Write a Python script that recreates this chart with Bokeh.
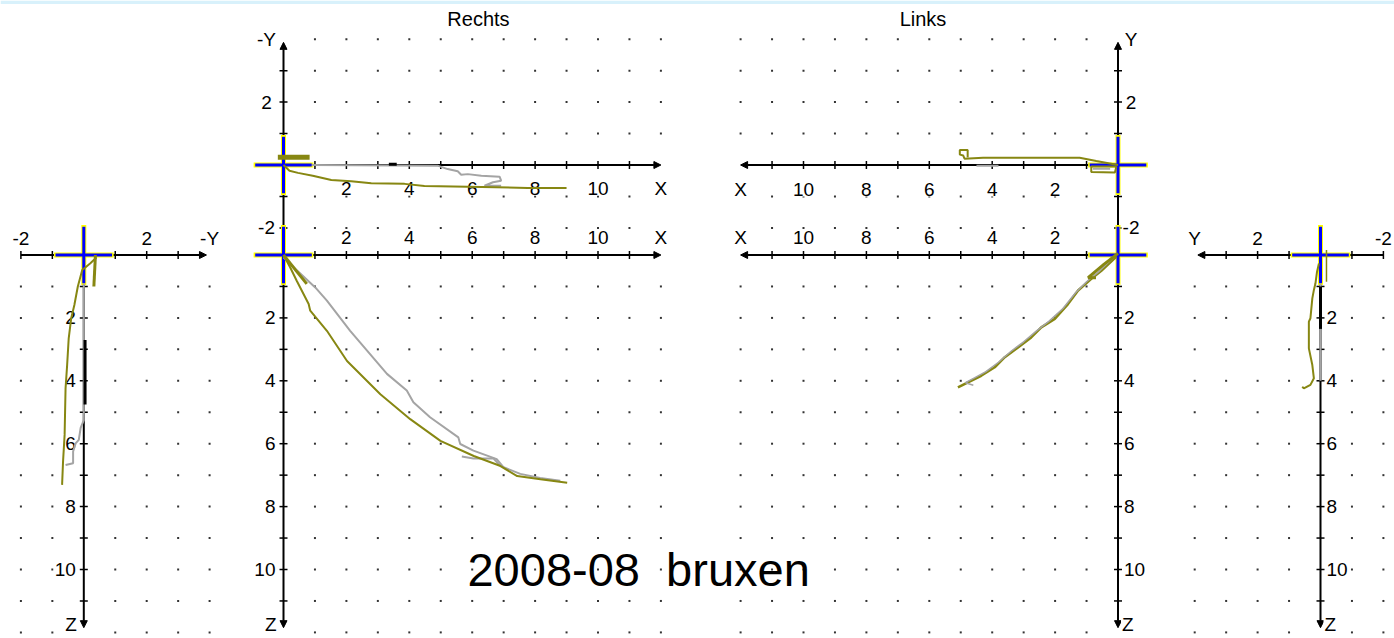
import numpy as np
from bokeh.plotting import figure
from bokeh.models import Range1d, ColumnDataSource, Arrow, NormalHead, BoxAnnotation
from bokeh.core.properties import value
from bokeh.embed import file_html
from bokeh.resources import INLINE

# ---------------- axis ticks / labels (mm) ----------------
FRONT_TICKS = [-2, -1, 1, 2, 3]
FRONT_LABEL_POS = [-2, 2, 4]
FRONT_LABELS_R = ["-2", "2", "-Y"]
FRONT_LABELS_L = ["-2", "2", "Y"]
X_TICKS = list(range(1, 12))
X_LABEL_POS = [2, 4, 6, 8, 10, 12]
X_LABELS = ["2", "4", "6", "8", "10", "X"]
Y_TICKS = [-2, -1, 1, 2, 3]
Y_LABEL_POS = [-2, 2, 4]
Y_LABELS_R = ["-2", "2", "-Y"]
Y_LABELS_L = ["-2", "2", "Y"]
Z_TICKS = list(range(1, 12))
Z_LABEL_POS = [2, 4, 6, 8, 10]
Z_LABELS = ["2", "4", "6", "8", "10"]
Z_NAME_POS = [12]
Z_NAME = ["Z"]

# dotted grid
FRONT_COLS = [-2, -1, 1, 2, 3, 4]
X_COLS = list(range(1, 13))
Y_ROWS = [-2, -1, 1, 2, 3, 4]
Z_ROWS = list(range(1, 13))

# ---------------- traces (mm) ----------------
# A: frontal view, right side (-Y horizontal, Z down)
A_OLIVE_Y = [0.40, 0.21, -0.05, -0.19, -0.30, -0.40, -0.48, -0.53, -0.58, -0.61, -0.66, -0.69]
A_OLIVE_Z = [0.08, 0.26, 0.48, 1.00, 1.59, 2.01, 2.65, 3.50, 4.24, 5.72, 6.57, 7.31]
A_SPIKE_Y = [0.37, 0.32]
A_SPIKE_Z = [0.0, 1.0]
A_GRAY_Y = [0.0, 0.0, -0.10, -0.16, -0.26, -0.34, -0.34, -0.58]
A_GRAY_Z = [0.9, 5.25, 5.50, 5.88, 5.99, 6.25, 6.62, 6.68]
A_BLACK_Y = [0.04, 0.04]
A_BLACK_Z = [2.7, 4.75]

# B: Rechts, horizontal view (X, -Y)
B_OLIVE_X = [0.0, 0.19, 0.46, 0.93, 1.52, 2.15, 2.79, 3.85, 4.48, 5.86, 7.77, 9.0]
B_OLIVE_Y = [0.0, -0.18, -0.25, -0.34, -0.48, -0.52, -0.58, -0.60, -0.67, -0.69, -0.73, -0.73]
B_BAR_X = [-0.18, 0.83]
B_BAR_Y = [0.25, 0.25]
B_GRAY_X = [0.9, 4.9, 5.22, 5.54, 5.65, 5.86, 6.29, 6.87, 6.92, 6.66, 6.39, 6.92]
B_GRAY_Y = [0.0, -0.02, -0.13, -0.20, -0.31, -0.29, -0.34, -0.37, -0.50, -0.55, -0.66, -0.66]
B_BLACK_X = [3.35, 3.6]
B_BLACK_Y = [0.02, 0.02]

# C: Rechts, sagittal view (X, Z down)
C_OLIVE_X = [0.0, 0.21, 0.42, 0.80, 0.85, 1.38, 2.02, 3.08, 4.03, 4.99, 6.05, 6.90, 7.43, 8.17, 9.02]
C_OLIVE_Z = [0.0, 0.39, 0.82, 1.56, 1.77, 2.41, 3.37, 4.43, 5.22, 5.91, 6.39, 6.71, 7.03, 7.13, 7.24]
C_GRAY_X = [0.0, 0.32, 1.01, 1.38, 2.12, 3.29, 3.92, 4.13, 4.66, 5.56, 5.62, 6.04, 6.78, 7.0, 7.53, 8.16, 8.8]
C_GRAY_Z = [0.07, 0.39, 1.03, 1.45, 2.41, 3.78, 4.31, 4.68, 5.16, 5.80, 6.01, 6.22, 6.49, 6.75, 6.96, 7.09, 7.18]
C_GRAY2_X = [5.67, 6.04, 6.68, 6.89]
C_GRAY2_Z = [6.41, 6.47, 6.47, 6.70]
C_THICK_X = [0.0, 0.74]
C_THICK_Z = [0.0, 0.92]

# D: Links, horizontal view (X leftward, Y up)
D_OLIVE_X = [0.0, 0.26, 0.69, 1.22, 4.29, 4.88, 4.92, 5.03, 5.03, 4.78, 4.78]
D_OLIVE_Y = [0.0, 0.05, 0.13, 0.23, 0.23, 0.20, 0.30, 0.33, 0.48, 0.48, 0.25]
D_BOX_X = [0.05, 0.85, 0.85, 0.10, 0.05]
D_BOX_Y = [-0.05, -0.05, -0.22, -0.24, -0.05]
D_GRAY_X = [4.5, 3.8]
D_GRAY_Y = [-0.02, -0.02]
D_GRAY2_X = [0.8, 0.25]
D_GRAY2_Y = [-0.12, -0.12]

# E: Links, sagittal view (X leftward, Z down)
E_OLIVE_X = [0.05, 0.53, 0.85, 1.27, 1.59, 2.01, 2.44, 2.76, 3.18, 3.60, 3.92, 4.35, 4.77, 5.09]
E_OLIVE_Z = [0.05, 0.50, 0.76, 1.13, 1.56, 2.03, 2.30, 2.62, 2.94, 3.25, 3.57, 3.84, 4.05, 4.21]
E_GRAY_X = [0.10, 0.60, 1.00, 1.35, 1.75, 2.20, 2.60, 3.00, 3.40, 3.80, 4.20, 4.55, 4.85, 4.60]
E_GRAY_Z = [0.03, 0.52, 0.85, 1.20, 1.70, 2.11, 2.42, 2.76, 3.06, 3.41, 3.71, 3.90, 4.06, 4.14]
E_THICK_X = [0.0, 0.45, 0.95, 0.70]
E_THICK_Z = [-0.05, 0.30, 0.72, 0.72]

# F: frontal view, left side (Y leftward, Z down)
F_OLIVE_Y = [0.05, 0.11, 0.16, 0.21, 0.26, 0.32, 0.37, 0.37, 0.26, 0.21, 0.32, 0.53, 0.58]
F_OLIVE_Z = [0.27, 0.53, 0.90, 1.11, 1.38, 2.01, 2.12, 2.97, 3.50, 3.92, 4.13, 4.24, 4.19]
F_SPIKE_Y = [-0.19, -0.19]
F_SPIKE_Z = [-0.16, 0.85]
F_GRAY_Y = [0.0, 0.0]
F_GRAY_Z = [0.9, 4.0]
F_BLACK_Y = [0.0, 0.0]
F_BLACK_Z = [1.0, 2.35]

TITLE_R = "Rechts"
TITLE_L = "Links"
CAPTION = "2008-08\u00a0 bruxen"

# ---------------- layout (pixels) ----------------
S = 31.45          # pixels per mm
W, H = 1394, 638
M = 0
ORIGIN_X = {"A": 83.3, "default": 283.0, "L": 1117.5, "F": 1320.0}
DIR_X = {"A": 1, "default": 1, "L": -1, "F": -1}
ORIGIN_Y = {"default": 254.5, "top": 164.5}
DIR_Y = {"default": -1, "top": 1}


def x_range(k):
    o, d = ORIGIN_X[k], DIR_X[k]
    return Range1d(start=d * (M - o) / S, end=d * (M + W - o) / S)


def y_range(k):
    o, d = ORIGIN_Y[k], DIR_Y[k]
    return Range1d(start=d * (o - (M + H)) / S, end=d * (o - M) / S)


PANEL = {"A": ("A", "default"), "B": ("default", "top"), "C": ("default", "default"),
         "D": ("L", "top"), "E": ("L", "default"), "F": ("F", "default")}


def kw(pn):
    xr, yr = PANEL[pn]
    return dict(x_range_name=xr, y_range_name=yr)


FONT = value("Liberation Sans")
LABEL_SIZE = "19px"
OLIVE = "#878712"
GRAY = "#a4a4a4"

p = figure(width=W, height=H, x_range=x_range("default"), y_range=y_range("default"),
           output_backend="svg", toolbar_location=None, min_border=0,
           x_axis_location=None, y_axis_location=None,
           background_fill_color="white", border_fill_color="white")
p.extra_x_ranges = {k: x_range(k) for k in ["A", "L", "F"]}
p.extra_y_ranges = {"top": y_range("top")}
p.grid.visible = False
p.outline_line_color = None

# thin light-blue strip along the top edge
p.add_layout(BoxAnnotation(bottom=(ORIGIN_Y["top"] - 3.5) / S, fill_color="#d8f1fb", fill_alpha=1,
                           line_color=None, y_range_name="top", level="underlay"))

# ---- dotted grid
GRID = {"A": (FRONT_COLS, Z_ROWS), "B": (X_COLS, Y_ROWS), "C": (X_COLS, Z_ROWS),
        "D": (X_COLS, Y_ROWS), "E": (X_COLS, Z_ROWS), "F": (FRONT_COLS, Z_ROWS)}
for pn, (cols, rows) in GRID.items():
    xx, yy = np.meshgrid(cols, rows)
    p.scatter(xx.ravel(), yy.ravel(), marker="square", size=2,
              fill_color="#333333", line_color=None, **kw(pn))

# ---- axes with arrows
H_AXIS = {"A": (-2, 3.9), "B": (0, 12), "C": (0, 12), "D": (0, 12), "E": (0, 12), "F": (-2, 3.9)}
V_AXIS = {"A": (0, 11.85), "B": (-2, 3.9), "C": (0, 11.85), "D": (-2, 3.9), "E": (0, 11.85), "F": (0, 11.85)}
for pn in PANEL:
    h0, h1 = H_AXIS[pn]
    v0, v1 = V_AXIS[pn]
    src = ColumnDataSource(dict(x0=[h0, 0], y0=[0, v0], x1=[h1, 0], y1=[0, v1]))
    p.add_layout(Arrow(end=NormalHead(size=7, fill_color="black", line_color="black", line_width=1),
                       x_start="x0", y_start="y0", x_end="x1", y_end="y1", source=src,
                       line_width=2, line_color="black", level="underlay", **kw(pn)))

# ---- ticks
H_TICKS = {"A": FRONT_TICKS, "B": X_TICKS, "C": X_TICKS, "D": X_TICKS, "E": X_TICKS, "F": FRONT_TICKS}
V_TICKS = {"A": Z_TICKS, "B": Y_TICKS, "C": Z_TICKS, "D": Y_TICKS, "E": Z_TICKS, "F": Z_TICKS}
for pn in PANEL:
    ht = H_TICKS[pn]
    vt = V_TICKS[pn]
    p.scatter(ht, [0] * len(ht), marker="dash", angle=np.pi / 2, size=8,
              line_color="black", line_width=1.5, **kw(pn))
    p.scatter([0] * len(vt), vt, marker="dash", size=8,
              line_color="black", line_width=1.5, **kw(pn))


def labels(pn, xs, ys, texts, xo, yo, align):
    p.text(x=xs, y=ys, text=texts, x_offset=xo, y_offset=yo, text_align=align,
           text_baseline="middle", text_font=FONT, text_font_size=LABEL_SIZE,
           text_color="black", background_fill_color="white", padding=1, **kw(pn))


# horizontal axis labels
labels("A", FRONT_LABEL_POS, [0] * 3, FRONT_LABELS_R, 0, -17, "center")
labels("F", FRONT_LABEL_POS, [0] * 3, FRONT_LABELS_L, 0, -17, "center")
labels("B", X_LABEL_POS, [0] * 6, X_LABELS, 0, 23, "center")
labels("D", X_LABEL_POS, [0] * 6, X_LABELS, 0, 24, "center")
labels("C", X_LABEL_POS, [0] * 6, X_LABELS, 0, -17.5, "center")
labels("E", X_LABEL_POS, [0] * 6, X_LABELS, 0, -17.5, "center")
# vertical axis labels
labels("B", [0] * 3, Y_LABEL_POS, Y_LABELS_R, -17, 0, "center")
labels("D", [0] * 3, Y_LABEL_POS, Y_LABELS_L, 13, 0, "center")
for pn, xo, al in [("A", -7, "right"), ("C", -7, "right"), ("E", 5, "left"), ("F", 5, "left")]:
    labels(pn, [0] * 5, Z_LABEL_POS, Z_LABELS, xo, 0, al)
    labels(pn, [0], Z_NAME_POS, Z_NAME, xo + (1 if al == "right" else -2), -8, al)

# ---- origin cross hairs
for pn in PANEL:
    p.segment(x0=[-0.95, 0], y0=[0, -0.95], x1=[0.95, 0], y1=[0, 0.95], line_color="#ffff00",
              line_width=5, **kw(pn))
    p.segment(x0=[-0.9, 0], y0=[0, -0.9], x1=[0.9, 0], y1=[0, 0.9], line_color="#0000ff",
              line_width=3, **kw(pn))

# ---- traces


def trace(pn, xs, ys, color, width):
    p.line(xs, ys, line_color=color, line_width=width, **kw(pn))


trace("A", A_GRAY_Y, A_GRAY_Z, GRAY, 2)
trace("A", A_BLACK_Y, A_BLACK_Z, "black", 3)
trace("A", A_OLIVE_Y, A_OLIVE_Z, OLIVE, 2)
trace("A", A_SPIKE_Y, A_SPIKE_Z, OLIVE, 3)

trace("B", B_GRAY_X, B_GRAY_Y, GRAY, 2)
trace("B", B_BLACK_X, B_BLACK_Y, "black", 3)
trace("B", B_OLIVE_X, B_OLIVE_Y, OLIVE, 2)
trace("B", B_BAR_X, B_BAR_Y, OLIVE, 5)

trace("C", C_GRAY_X, C_GRAY_Z, GRAY, 2)
trace("C", C_GRAY2_X, C_GRAY2_Z, GRAY, 2)
trace("C", C_OLIVE_X, C_OLIVE_Z, OLIVE, 2)
trace("C", C_THICK_X, C_THICK_Z, OLIVE, 3)

trace("D", D_GRAY_X, D_GRAY_Y, GRAY, 2)
trace("D", D_OLIVE_X, D_OLIVE_Y, OLIVE, 2)
trace("D", D_BOX_X, D_BOX_Y, OLIVE, 2)
trace("D", D_GRAY2_X, D_GRAY2_Y, GRAY, 2)

trace("E", E_OLIVE_X, E_OLIVE_Z, OLIVE, 2.5)
trace("E", E_GRAY_X, E_GRAY_Z, GRAY, 1.5)
trace("E", E_THICK_X, E_THICK_Z, OLIVE, 3)

trace("F", F_GRAY_Y, F_GRAY_Z, GRAY, 2)
trace("F", F_BLACK_Y, F_BLACK_Z, "black", 3)
trace("F", F_OLIVE_Y, F_OLIVE_Z, OLIVE, 2)
trace("F", F_SPIKE_Y, F_SPIKE_Z, OLIVE, 1.5)

# ---- titles and caption
p.text(x=[6.2], y=[4.63], text=[TITLE_R], text_align="center", text_baseline="middle",
       text_font=FONT, text_font_size="20px", text_color="black", **kw("B"))
p.text(x=[6.2], y=[4.63], text=[TITLE_L], text_align="center", text_baseline="middle",
       text_font=FONT, text_font_size="20px", text_color="black", **kw("D"))
p.text(x=[5.85], y=[10.0], text=[CAPTION], text_align="left", text_baseline="middle",
       text_font=FONT, text_font_size="47px", text_color="black", **kw("C"))

open("out.html", "w").write(file_html(p, INLINE))
